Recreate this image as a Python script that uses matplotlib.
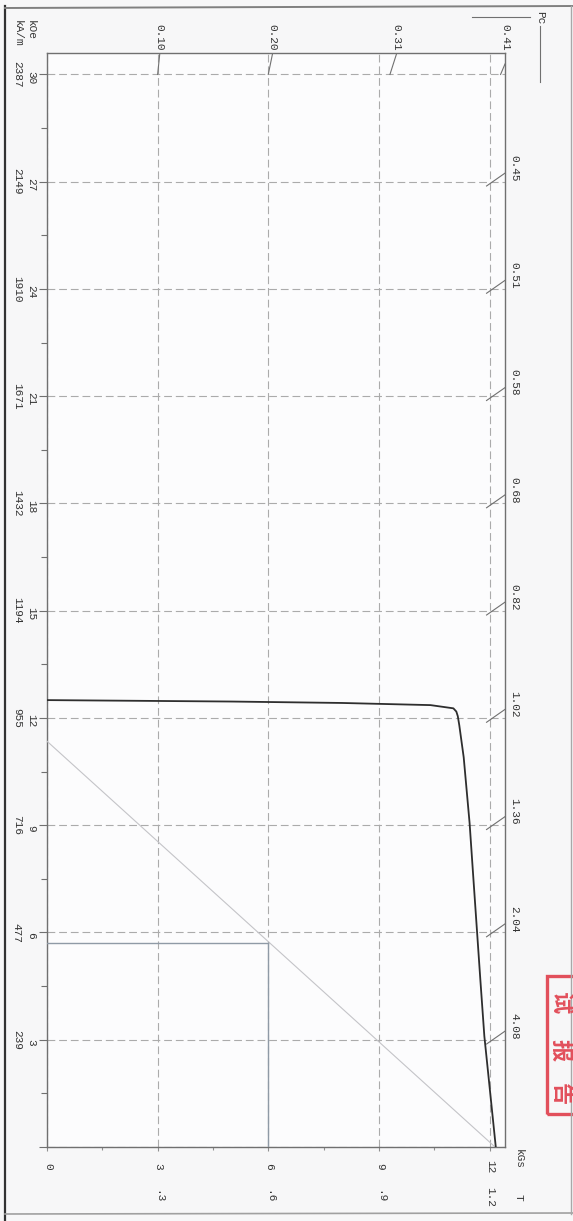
import matplotlib
matplotlib.use('Agg')
import matplotlib.pyplot as plt
from matplotlib.patches import Rectangle
from matplotlib.lines import Line2D
import numpy as np

plt.rcParams['font.family'] = ['Liberation Mono', 'DejaVu Sans Mono']

# ---------------- data ----------------
H_grid_koe = [3, 6, 9, 12, 15, 18, 21, 24, 27, 30]
H_grid_kam = [239, 477, 716, 955, 1194, 1432, 1671, 1910, 2149, 2387]
B_grid_kgs = [0, 3, 6, 9, 12]
B_grid_t = ['', '.3', '.6', '.9', '1.2']
pc_top = [0.10, 0.20, 0.31, 0.41]
pc_right = [0.45, 0.51, 0.58, 0.68, 0.82, 1.02, 1.36, 2.04, 4.08]
pc_right_h = [27, 24, 21, 18, 15, 12, 9, 6, 3]

# intrinsic demagnetisation curve (B in kGs, H in kOe)
J_B = [12.17, 12.02, 11.86, 11.75, 11.64, 11.55, 11.46, 11.30, 11.18,
       11.14, 11.10, 11.02, 10.40, 8.00, 5.00, 0.00]
J_H = [0.00, 1.50, 3.10, 4.70, 6.35, 7.70, 9.06, 10.90, 11.80,
       12.05, 12.18, 12.27, 12.36, 12.42, 12.46, 12.50]
# normal B-H line
BH_B = [12.15, 0.0]
BH_H = [0.0, 11.35]
# (BH)max working point
Bm, Hm = 6.0, 5.7

# stamp characters (partly cut by the page edge in the scan)
stamp_chars = ['试', '报', '告']

# ---------------- figure ----------------
W, HP = 573, 1221
fig = plt.figure(figsize=(W / 100, HP / 100), dpi=100)
fig.patch.set_facecolor('#f7f7f8')


def fx(x):
    return x / W


def fy(y):
    return 1 - y / HP


ax_l, ax_r, ax_t, ax_b = 47, 505, 53, 1147
ax = fig.add_axes([fx(ax_l), fy(ax_b), (ax_r - ax_l) / W, (ax_b - ax_t) / HP])
ax.set_facecolor('#fcfcfd')
ax.set_xlim(0, 12.42)
ax.set_ylim(0, 30.6)

for s in ax.spines.values():
    s.set_color('#707070')
    s.set_linewidth(1.0)

ax.set_xticks(B_grid_kgs)
ax.set_xticks([1.5, 4.5, 7.5, 10.5], minor=True)
ax.set_yticks([0] + H_grid_koe)
ax.set_yticks(list(np.arange(1.5, 30, 3)), minor=True)
ax.tick_params(axis='y', which='major', length=6, width=0.8, color='#707070', labelleft=False)
ax.tick_params(axis='y', which='minor', length=4, width=0.8, color='#707070')
ax.tick_params(axis='x', which='major', length=3, width=0.8, color='#909090', labelbottom=False)
ax.tick_params(axis='x', which='minor', length=2.5, width=0.8, color='#909090')

ax.grid(True, which='major', color='#ababab', linewidth=0.8, dashes=(7, 3.5))

# normal B line and (BH)max marker
ax.plot(BH_B, BH_H, color='#c4c4c8', linewidth=0.8, zorder=3)
ax.plot([0, Bm], [Hm, Hm], color='#8f9aa6', linewidth=1.0, zorder=3)
ax.plot([Bm, Bm], [0, Hm], color='#8f9aa6', linewidth=1.0, zorder=3)

# intrinsic curve
ax.plot(J_B, J_H, color='#2e2e2e', linewidth=1.3, zorder=4,
        solid_joinstyle='round')

# permeance-coefficient ticks
Bmax, Hmax = ax.get_xlim()[1], ax.get_ylim()[1]
for pc in pc_top:
    b0, b1 = pc * 30, min(pc * Hmax, Bmax)
    ax.plot([b0, b1], [30, b1 / pc], color='#707070', linewidth=0.8, zorder=5)
    ax.text(min(pc * Hmax, Bmax + 0.02), 1.0146, f'{pc:.2f}', transform=ax.get_xaxis_transform(),
            rotation=270, ha='center', va='center', fontsize=8, color='#333333', clip_on=False)
for pc, h in zip(pc_right, pc_right_h):
    ax.plot([11.92, Bmax], [h - 0.12, h + 0.24], color='#707070', linewidth=0.8, zorder=5)
    ax.text(1.0197, h + 0.38, f'{pc:.2f}', transform=ax.get_yaxis_transform(),
            rotation=270, ha='center', va='center', fontsize=8, color='#333333', clip_on=False)

# H axis labels (kOe and kA/m)
ytr = ax.get_yaxis_transform()
for h, k in zip(H_grid_koe, H_grid_kam):
    ax.text(-0.0349, h - 0.08, str(h), transform=ytr, rotation=270, ha='center', va='center',
            fontsize=8, color='#333333')
    ax.text(-0.066, h, str(k), transform=ytr, rotation=270, ha='center', va='center',
            fontsize=8, color='#333333')
ax.text(-0.0349, 1.0215, 'kOe', transform=ax.transAxes, rotation=270, ha='center', va='center',
        fontsize=8, color='#333333')
ax.text(-0.064, 1.0185, 'kA/m', transform=ax.transAxes, rotation=270, ha='center', va='center',
        fontsize=8, color='#333333')

# B axis labels (kGs and T)
xtr = ax.get_xaxis_transform()
for b, t in zip(B_grid_kgs, B_grid_t):
    ax.text(b + 0.03, -0.0175, str(b), transform=xtr, rotation=270, ha='center', va='center',
            fontsize=8, color='#333333')
    if t:
        ax.text(b + 0.03, -0.0457, t, transform=xtr, rotation=270, ha='center', va='center',
                fontsize=8, color='#333333')
ax.text(1.029, -0.0105, 'kGs', transform=ax.transAxes, rotation=270, ha='center', va='center',
        fontsize=8, color='#333333')
ax.text(1.029, -0.0457, 'T', transform=ax.transAxes, rotation=270, ha='center', va='center',
        fontsize=8, color='#333333')

# Pc legend
fig.text(fx(540), fy(18), 'Pc', rotation=270, ha='center', va='center', fontsize=8, color='#333333')
fig.add_artist(Line2D([fx(540), fx(540)], [fy(26), fy(82)], color='#707070', linewidth=0.8))
fig.add_artist(Line2D([fx(472), fx(530)], [fy(17), fy(17)], color='#707070', linewidth=0.8))

# page border of the scan
fig.add_artist(Line2D([fx(5), fx(5)], [fy(6), fy(1221)], color='#333333', linewidth=1.6))
fig.add_artist(Line2D([fx(5), fx(573)], [fy(8), fy(6)], color='#808080', linewidth=1.4))
fig.add_artist(Line2D([fx(5), fx(573)], [fy(1214), fy(1213)], color='#a0a0a0', linewidth=1.2))
fig.add_artist(Line2D([fx(571), fx(571)], [fy(6), fy(1214)], color='#a8a8a8', linewidth=1.0))

# red stamp (partly cut by the page edge)
fig.add_artist(Rectangle((fx(547), fy(1114)), (600 - 547) / W, (1114 - 976) / HP,
                         transform=fig.transFigure, fill=False, edgecolor='#e2505c', linewidth=2.4))
for ch, yc in zip(stamp_chars, [1003, 1050, 1094]):
    fig.text(fx(560), fy(yc), ch, rotation=270, ha='center', va='center', fontsize=16,
             fontweight='bold', color='#e2505c', family=['Noto Sans CJK SC', 'DejaVu Sans'])

fig.savefig('out.png', dpi=100, facecolor=fig.get_facecolor())
